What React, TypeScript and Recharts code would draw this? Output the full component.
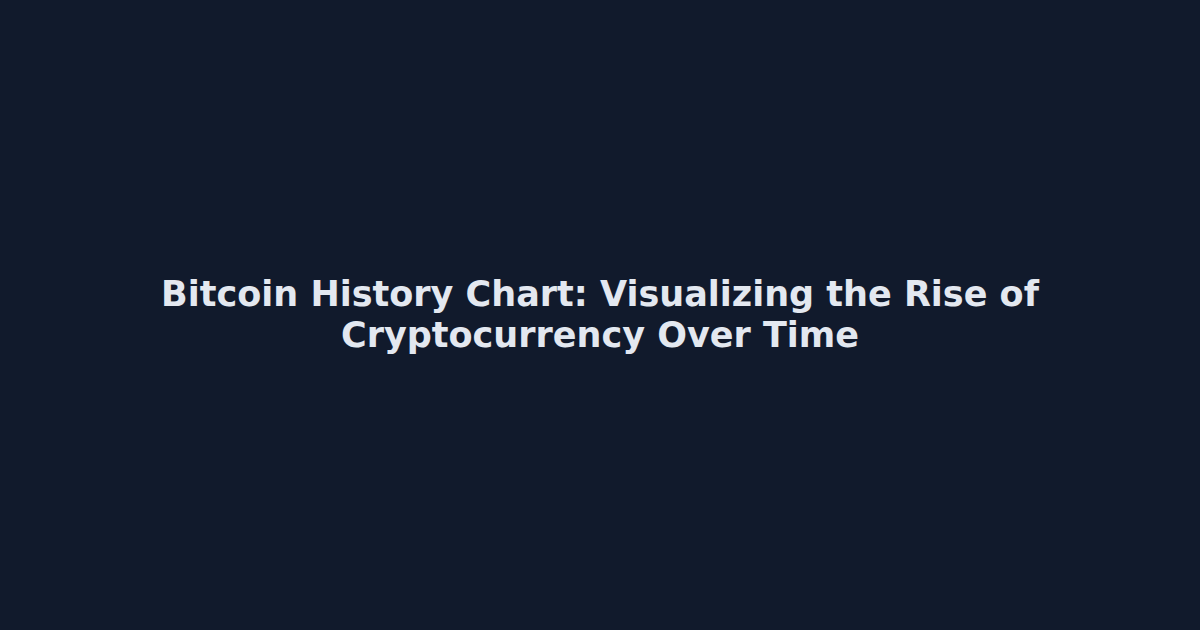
import React from "react";
import { Surface, Text } from "recharts";

// title card only, no series in the reference
const titleLines = [
  "Bitcoin History Chart: Visualizing the Rise of",
  "Cryptocurrency Over Time",
];
const lineBaselines = [306, 347];

export default function App() {
  return (
    <div style={{ position: "fixed", top: 0, left: 0, width: 1200, height: 630, background: "#111a2c" }}>
      <Surface width={1200} height={630}>
        <rect x={0} y={0} width={1200} height={630} fill="#111a2c" />
        {titleLines.map((line, i) => (
          <Text
            key={line}
            x={600}
            y={lineBaselines[i]}
            textAnchor="middle"
            verticalAnchor="end"
            fill="#e3e8f0"
            style={{ fontFamily: "'DejaVu Sans', sans-serif", fontWeight: 700, fontSize: 35 }}
          >
            {line}
          </Text>
        ))}
      </Surface>
    </div>
  );
}
